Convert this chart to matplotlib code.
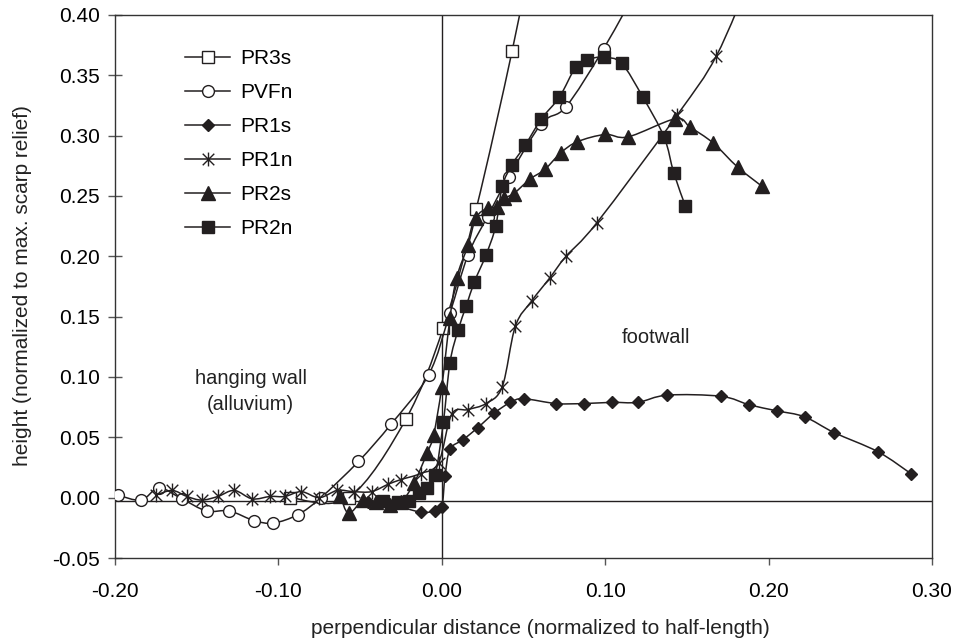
import numpy as np
import matplotlib
matplotlib.use("Agg")
from matplotlib import pyplot as plt
from matplotlib.path import Path
from matplotlib.patches import PathPatch
from matplotlib.lines import Line2D

# series
pr3s_x = [-0.093, -0.057, -0.022, 0.001, 0.021, 0.043, 0.056]
pr3s_y = [0.000, 0.000, 0.065, 0.141, 0.239, 0.370, 0.460]

pvfn_x = [-0.198, -0.184, -0.173, -0.159, -0.144, -0.130, -0.115, -0.103, -0.088, -0.074, -0.051,
          -0.031, -0.008, 0.005, 0.016, 0.028, 0.041, 0.061, 0.076, 0.099, 0.125]
pvfn_y = [0.002, -0.002, 0.008, -0.001, -0.011, -0.011, -0.019, -0.021, -0.014, 0.000, 0.030,
          0.061, 0.102, 0.153, 0.201, 0.233, 0.266, 0.310, 0.324, 0.372, 0.435]

pr1s_x = [-0.045, -0.030, -0.013, -0.004, 0.000, 0.002, 0.005, 0.013, 0.022, 0.032, 0.042, 0.050,
          0.070, 0.087, 0.104, 0.120, 0.138, 0.171, 0.188, 0.205, 0.222, 0.240, 0.267, 0.287]
pr1s_y = [-0.004, -0.006, -0.012, -0.011, -0.008, 0.018, 0.040, 0.048, 0.058, 0.070, 0.079, 0.082,
          0.078, 0.078, 0.079, 0.079, 0.085, 0.084, 0.077, 0.072, 0.067, 0.054, 0.038, 0.020]

pr1n_x = [-0.175, -0.165, -0.156, -0.147, -0.137, -0.127, -0.116, -0.105, -0.096, -0.086, -0.075,
          -0.064, -0.054, -0.043, -0.033, -0.025, -0.013, -0.002, 0.006, 0.016, 0.027, 0.037, 0.045,
          0.055, 0.066, 0.076, 0.095, 0.144, 0.168, 0.190]
pr1n_y = [0.002, 0.006, 0.001, -0.002, 0.001, 0.006, -0.001, 0.001, 0.001, 0.005, 0.000,
          0.006, 0.005, 0.005, 0.011, 0.015, 0.020, 0.029, 0.069, 0.073, 0.078, 0.092, 0.142,
          0.163, 0.182, 0.200, 0.228, 0.317, 0.366, 0.435]

pr2s_x = [-0.062, -0.057, -0.048, -0.040, -0.032, -0.025, -0.017, -0.009, -0.005, 0.000, 0.005,
          0.009, 0.016, 0.021, 0.028, 0.034, 0.038, 0.044, 0.054, 0.063, 0.073, 0.083, 0.100,
          0.114, 0.143, 0.152, 0.166, 0.181, 0.196]
pr2s_y = [0.001, -0.013, -0.002, -0.004, -0.006, -0.004, 0.012, 0.037, 0.052, 0.092, 0.149,
          0.182, 0.209, 0.232, 0.240, 0.241, 0.248, 0.252, 0.264, 0.272, 0.286, 0.295, 0.301,
          0.299, 0.314, 0.307, 0.294, 0.274, 0.258]

pr2n_x = [-0.036, -0.027, -0.020, -0.014, -0.009, -0.004, 0.001, 0.005, 0.010, 0.015, 0.020,
          0.027, 0.033, 0.037, 0.043, 0.051, 0.061, 0.072, 0.082, 0.089, 0.099, 0.110, 0.123,
          0.136, 0.142, 0.149]
pr2n_y = [-0.003, -0.004, -0.003, 0.004, 0.008, 0.019, 0.063, 0.112, 0.139, 0.159, 0.179,
          0.201, 0.225, 0.258, 0.276, 0.292, 0.314, 0.332, 0.357, 0.363, 0.365, 0.360, 0.332,
          0.299, 0.269, 0.242]

x_ticks = [-0.20, -0.10, 0.00, 0.10, 0.20, 0.30]
y_ticks = [-0.05, 0.00, 0.05, 0.10, 0.15, 0.20, 0.25, 0.30, 0.35, 0.40]

INK = "#231f20"
FONT = "Liberation Sans"
FS = 15

# excel style star: an X with a vertical bar
star = Path([(-1, -1), (1, 1), (-1, 1), (1, -1), (0, -1.2), (0, 1.2)],
            [Path.MOVETO, Path.LINETO, Path.MOVETO, Path.LINETO, Path.MOVETO, Path.LINETO])


def smooth_path(x, y):
    """bezier through the points, same tension as excel smoothed lines"""
    pts = np.column_stack([x, y])
    n = len(pts)
    verts = [pts[0]]
    codes = [Path.MOVETO]
    for i in range(n - 1):
        p0 = pts[max(i - 1, 0)]
        p1 = pts[i]
        p2 = pts[i + 1]
        p3 = pts[min(i + 2, n - 1)]
        verts += [p1 + (p2 - p0) / 6.0, p2 - (p3 - p1) / 6.0, p2]
        codes += [Path.CURVE4] * 3
    return Path(verts, codes)


series = [
    ("PR3s", pr3s_x, pr3s_y, dict(marker="s", ms=8, mfc="white")),
    ("PVFn", pvfn_x, pvfn_y, dict(marker="o", ms=8.5, mfc="white")),
    ("PR1s", pr1s_x, pr1s_y, dict(marker="D", ms=6.5, mfc=INK)),
    ("PR1n", pr1n_x, pr1n_y, dict(marker=star, ms=10, mfc=INK)),
    ("PR2s", pr2s_x, pr2s_y, dict(marker="^", ms=9.5, mfc=INK)),
    ("PR2n", pr2n_x, pr2n_y, dict(marker="s", ms=8, mfc=INK)),
]

plt.rcParams["font.family"] = FONT

fig = plt.figure(figsize=(9.54, 6.4), dpi=100)
ax = fig.add_axes([115 / 954, 1 - 558 / 640, 817 / 954, 543 / 640])

ax.axvline(0, color=INK, lw=1.0, zorder=1)
ax.axhline(-0.003, color=INK, lw=1.0, zorder=1)

handles = []
for i, (name, x, y, style) in enumerate(series):
    ax.add_patch(PathPatch(smooth_path(x, y), fill=False, ec=INK, lw=1.1, zorder=2 + i))
    ax.plot(x, y, ls="none", mec=INK, mew=1.0, zorder=2 + i, **style)
    handles.append(Line2D([], [], color=INK, lw=1.1, mec=INK, mew=1.0, label=name, **style))

ax.set_xlim(-0.20, 0.30)
ax.set_ylim(-0.05, 0.40)
ax.set_xticks(x_ticks)
ax.set_yticks(y_ticks)
ax.set_xticklabels(["%.2f" % v for v in x_ticks])
ax.set_yticklabels(["%.2f" % v for v in y_ticks])
ax.tick_params(axis="x", direction="out", length=5, width=1, color="#555555", labelsize=FS, pad=12)
ax.tick_params(axis="y", direction="inout", length=10, width=1, color="#555555", labelsize=FS, pad=6)
for sp in ax.spines.values():
    sp.set_color("#333333")
    sp.set_linewidth(1.0)

fig.text(540 / 954, 1 - 628 / 640, "perpendicular distance (normalized to half-length)",
         ha="center", va="center", fontsize=FS, color="#222222")
fig.text(23 / 954, 1 - 286 / 640, "height (normalized to max. scarp relief)",
         rotation=90, ha="center", va="center", fontsize=FS, color="#222222")

ax.text(-0.117, 0.099, "hanging wall", ha="center", va="center", fontsize=14.5, color="#222222")
ax.text(-0.117, 0.077, "(alluvium)", ha="center", va="center", fontsize=14.5, color="#222222")
ax.text(0.131, 0.133, "footwall", ha="center", va="center", fontsize=14.5, color="#222222")

ax.legend(handles=handles, loc="upper left", bbox_to_anchor=(0.075, 0.952), frameon=False,
          fontsize=FS, handlelength=2.2, handletextpad=0.45, labelspacing=0.72, borderaxespad=0)

fig.savefig("out.png", dpi=100)
